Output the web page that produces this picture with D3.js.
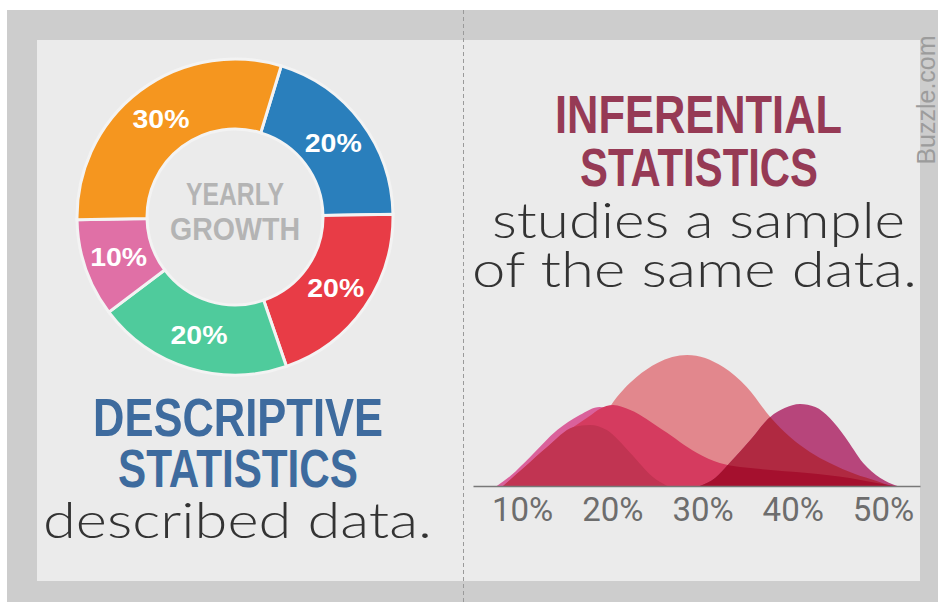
<!DOCTYPE html>
<html>
<head>
<meta charset="utf-8">
<script src="https://cdn.jsdelivr.net/npm/d3@7"></script>
<style>
  html, body { margin: 0; padding: 0; background: #fff; }
  svg { display: block; }
</style>
</head>
<body>
<div class="svg"></div>
<script>
// donut shares, clockwise from the blue slice
var donutShares = [20, 20, 20, 10, 30];
var donutCenter = ["YEARLY", "GROWTH"];

// bottom axis of the bell curves
var axisTicks = [10, 20, 30, 40, 50];

// curves: [percent, height]
var salmonCurve = [[8.1,0],[11.4,3.8],[14.2,12.2],[16.4,23.7],[18.1,39.7],[19.8,61.1],[21.2,73.3],[22.7,83.2],
    [25.0,93.9],[28.3,100],[32.3,90.8],[34.9,75.6],[37.5,52.7],[39.7,37.4],[41.9,26],[44.1,17.6],[46.9,9.2],[49.3,3.8],[50.8,0]];
var magentaCurve = [[7.2,0],[8.7,7.6],[10.9,22.1],[13.9,42.7],[16.4,54.2],[18.6,60.3],[19.8,58],[20.6,55],
    [21.5,45],[23.5,25],[25.5,8],[27,0]];
var redCurve = [[7.9,0],[10.3,14.5],[12.8,29.8],[15.7,45],[17.5,53.4],[18.6,58.8],[20.1,61.8],[22.0,58],
    [25.6,42.7],[29.4,25.2],[31.9,17.6],[36.4,13],[41.6,9.9],[46.3,6.1],[49.3,2.3],[51.3,0]];
var darkCurve = [[7.9,0],[10.3,14.5],[12.8,29.8],[15.7,45],[17.5,46.6],[19.4,42.7],[22.0,25.2],[24.5,6.9],[26.1,0]];
var purpleCurve = [[29.7,0],[31.4,6.1],[33.0,17.6],[35.3,35.1],[37.5,52.7],[39.1,59.5],[40.8,62.6],[42.5,60.3],
    [44.1,51.9],[45.8,37.4],[47.8,17.6],[49.7,6.1],[51.6,0]];

var width = 938, height = 602;
var boldFont = "'Liberation Sans Narrow', 'Liberation Sans', Arial, sans-serif";
var thinFont = "Lato, 'Open Sans', 'Noto Sans', sans-serif";

var svg = d3.select(".svg").append("svg")
    .attr("width", width)
    .attr("height", height);

// backdrop
svg.append("rect").attr("width", width).attr("height", height).attr("fill", "#fff");
svg.append("rect").attr("x", 7).attr("y", 10).attr("width", width - 7).attr("height", height - 10).attr("fill", "#cdcdcd");
svg.append("rect").attr("x", 37).attr("y", 40).attr("width", 883).attr("height", 541).attr("fill", "#ebebeb");
svg.append("line")
    .attr("x1", 463.5).attr("x2", 463.5).attr("y1", 10).attr("y2", height)
    .attr("stroke", "#9a9a9a").attr("stroke-dasharray", "4,3");

svg.append("text")
    .attr("transform", "translate(935,100) rotate(-90)")
    .attr("text-anchor", "middle")
    .attr("font-family", "'Liberation Sans', Arial, sans-serif")
    .attr("font-size", 25)
    .attr("fill", "#9c9c9c")
    .text("Buzzle.com");

drawDonut();
drawCurves();
drawTitles();

function drawDonut() {
    var τ = 2 * Math.PI, start = 17 / 360 * τ;
    var color = d3.scaleOrdinal()
        .domain(d3.range(donutShares.length))
        .range(["#2a7fbc", "#e83c46", "#4fcb9c", "#e070a6", "#f5961f"]);

    var pie = d3.pie().sort(null).startAngle(start).endAngle(start + τ);
    var arc = d3.arc().innerRadius(88).outerRadius(158);

    var g = svg.append("g").attr("transform", "translate(235,217)");
    var slices = g.selectAll("g.slice")
        .data(pie(donutShares))
        .enter().append("g").attr("class", "slice");

    slices.append("path")
        .attr("d", arc)
        .attr("fill", function (d, i) { return color(i); })
        .attr("stroke", "#f3f3f3")
        .attr("stroke-width", 3);

    slices.append("text")
        .attr("transform", function (d) { return "translate(" + arc.centroid(d) + ")"; })
        .attr("dy", "0.36em")
        .attr("text-anchor", "middle")
        .attr("font-family", "'Liberation Sans', Arial, sans-serif")
        .attr("font-weight", "bold")
        .attr("font-size", 25)
        .attr("textLength", 57)
        .attr("lengthAdjust", "spacingAndGlyphs")
        .attr("fill", "#fff")
        .text(function (d) { return d.data + "%"; });

    g.selectAll("text.center")
        .data(donutCenter)
        .enter().append("text")
        .attr("class", "center")
        .attr("y", function (d, i) { return i ? 23 : -12; })
        .attr("text-anchor", "middle")
        .attr("font-family", boldFont)
        .attr("font-weight", "bold")
        .attr("font-size", 32)
        .attr("textLength", function (d, i) { return i ? 130 : 98; })
        .attr("lengthAdjust", "spacingAndGlyphs")
        .attr("fill", "#b4b4b4")
        .text(function (d) { return d; });
}

function drawCurves() {
    var x = d3.scaleLinear().domain([4.57, 54.1]).range([473, 920]);
    var y = d3.scaleLinear().domain([0, 100]).range([486, 355]);

    var area = d3.area()
        .x(function (d) { return x(d[0]); })
        .y0(y(0))
        .y1(function (d) { return y(d[1]); })
        .curve(d3.curveMonotoneX);

    var defs = svg.append("defs");
    defs.append("clipPath").attr("id", "purpleClip")
        .append("path").attr("d", area(purpleCurve));

    var g = svg.append("g");
    g.append("path").attr("d", area(salmonCurve)).attr("fill", "#e2878d");
    g.append("path").attr("d", area(magentaCurve)).attr("fill", "#da619b");
    g.append("path").attr("d", area(redCurve)).attr("fill", "#d53b5f");
    g.append("path").attr("d", area(darkCurve)).attr("fill", "#c13452");
    g.append("path").attr("d", area(purpleCurve)).attr("fill", "#b7457b");
    // overlaps under the purple bump
    g.append("path").attr("d", area(salmonCurve)).attr("clip-path", "url(#purpleClip)").attr("fill", "#b02941");
    g.append("path").attr("d", area(redCurve)).attr("clip-path", "url(#purpleClip)").attr("fill", "#a5102e");

    var axis = d3.axisBottom(x)
        .tickValues(axisTicks)
        .tickFormat(function (d) { return d + "%"; })
        .tickSize(0)
        .tickSizeOuter(0);

    var ax = svg.append("g")
        .attr("transform", "translate(0," + y(0) + ")")
        .call(axis)
        .attr("font-family", "Roboto, sans-serif")
        .attr("font-size", 33);
    ax.select(".domain").attr("stroke", "#787878").attr("stroke-width", 1.5);
    ax.selectAll(".tick text").attr("y", 35).attr("dy", 0).attr("fill", "#6d6d6d");
}

function drawTitles() {
    var lines = [
        // left column
        {t: "DESCRIPTIVE", x: 238, y: 436, w: 290, s: 53, c: "#3e6b9e", f: boldFont, b: "bold"},
        {t: "STATISTICS", x: 238, y: 487, w: 240, s: 53, c: "#3e6b9e", f: boldFont, b: "bold"},
        {t: "described data.", x: 237.5, y: 538, w: 389, s: 50, c: "#333", f: thinFont, b: 300},
        // right column
        {t: "INFERENTIAL", x: 698.5, y: 133, w: 287, s: 53, c: "#963a55", f: boldFont, b: "bold"},
        {t: "STATISTICS", x: 699, y: 186, w: 238, s: 53, c: "#963a55", f: boldFont, b: "bold"},
        {t: "studies a sample", x: 698.5, y: 238, w: 413, s: 50, c: "#333", f: thinFont, b: 300},
        {t: "of the same data.", x: 694.5, y: 287, w: 445, s: 50, c: "#333", f: thinFont, b: 300}
    ];
    svg.selectAll("text.title")
        .data(lines)
        .enter().append("text")
        .attr("class", "title")
        .attr("x", function (d) { return d.x; })
        .attr("y", function (d) { return d.y; })
        .attr("text-anchor", "middle")
        .attr("font-family", function (d) { return d.f; })
        .attr("font-weight", function (d) { return d.b; })
        .attr("font-size", function (d) { return d.s; })
        .attr("textLength", function (d) { return d.w; })
        .attr("lengthAdjust", "spacingAndGlyphs")
        .attr("fill", function (d) { return d.c; })
        .text(function (d) { return d.t; });
}
</script>
</body>
</html>
